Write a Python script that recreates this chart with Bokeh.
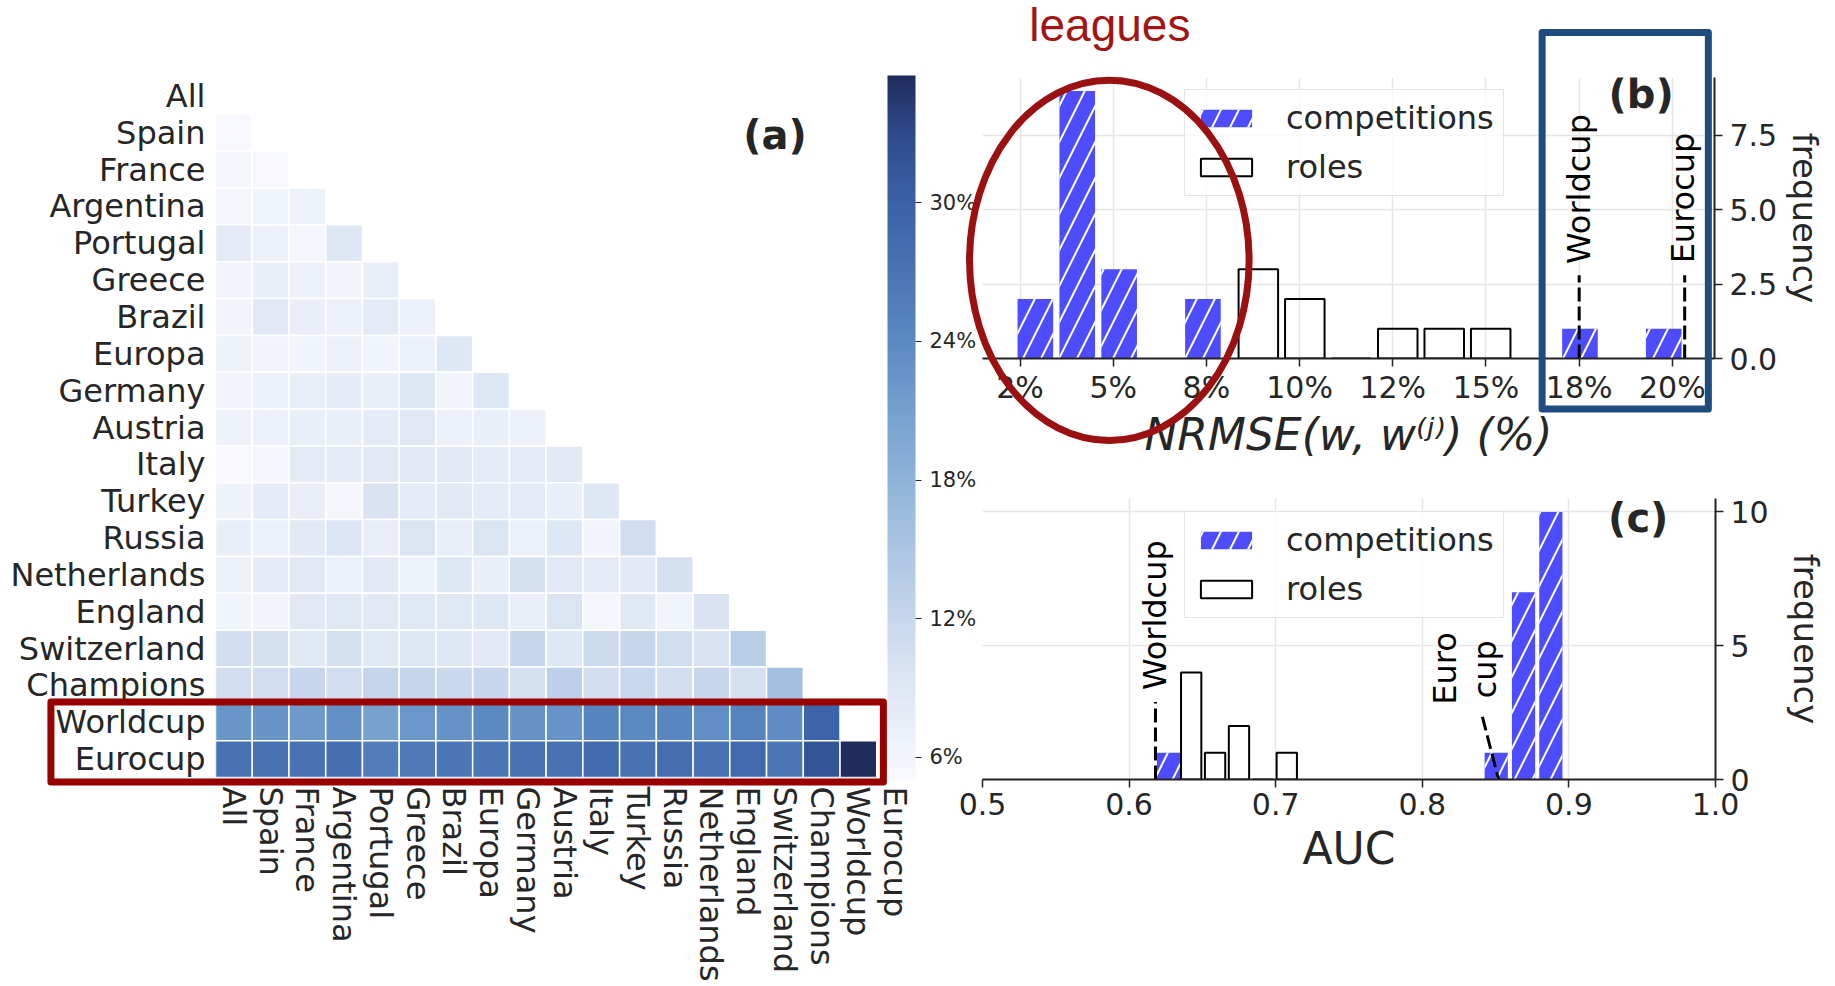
import numpy as np
from bokeh.plotting import figure
from bokeh.models import (Range1d, FixedTicker, CustomJSTickFormatter, LinearColorMapper, ColorBar,
                          Label, Legend, LegendItem, ColumnDataSource, PrintfTickFormatter)
from bokeh.core.properties import value
from bokeh.layouts import row, column
from bokeh.embed import file_html
from bokeh.resources import INLINE

# ---------------- data ----------------
competitions = ["All", "Spain", "France", "Argentina", "Portugal", "Greece", "Brazil", "Europa",
                "Germany", "Austria", "Italy", "Turkey", "Russia", "Netherlands", "England",
                "Switzerland", "Champions", "Worldcup", "Eurocup"]

# lower triangle of pairwise NRMSE (%), row i has values for columns 0..i-1
nrmse_rows = [
    [],
    [5.3],
    [5.5, 5.3],
    [5.7, 6.2, 6.5],
    [8.0, 7.0, 5.8, 9.0],
    [6.0, 7.3, 6.8, 6.0, 7.3],
    [6.0, 8.5, 7.5, 6.8, 8.0, 6.8],
    [6.5, 6.0, 6.2, 7.0, 6.3, 7.0, 9.0],
    [6.0, 6.8, 7.3, 7.8, 7.3, 9.2, 6.0, 9.0],
    [6.5, 6.8, 7.3, 7.3, 7.8, 8.5, 7.0, 7.3, 7.0],
    [5.3, 5.8, 8.0, 8.2, 8.5, 8.5, 8.3, 7.8, 7.8, 8.5],
    [6.5, 7.8, 7.6, 5.7, 9.8, 7.8, 8.3, 7.8, 8.0, 7.3, 9.0],
    [7.3, 6.8, 8.3, 9.3, 7.6, 9.5, 7.5, 9.5, 6.8, 9.0, 6.0, 10.8],
    [6.9, 8.0, 8.5, 6.8, 8.5, 6.5, 9.0, 7.3, 10.3, 8.5, 8.0, 8.3, 10.3],
    [6.2, 6.0, 8.5, 8.7, 8.5, 8.8, 8.8, 9.0, 7.5, 9.5, 5.7, 8.7, 6.4, 9.8],
    [10.5, 10.3, 8.8, 10.3, 8.7, 9.2, 9.0, 8.5, 12.0, 9.0, 11.2, 12.0, 10.8, 9.8, 13.5],
    [10.6, 10.6, 12.0, 10.8, 12.3, 12.3, 11.7, 12.0, 10.3, 13.0, 10.6, 11.8, 10.5, 12.0, 10.3, 16.0],
    [22.3, 22.5, 21.8, 23.0, 20.8, 22.2, 22.8, 24.0, 22.8, 22.6, 24.8, 24.3, 24.5, 23.3, 25.0, 23.4, 29.5],
    [27.5, 27.3, 27.3, 27.8, 25.5, 26.3, 26.6, 26.6, 27.2, 27.5, 28.8, 27.3, 27.9, 27.2, 28.8, 26.6, 31.8, 35.4],
]
colorbar_ticks = [6, 12, 18, 24, 30]
colorbar_low, colorbar_high = 5.0, 35.5

# (b) NRMSE histograms (%)
nrmse_comp_counts = [2, 9, 3, 0, 2, 0, 0, 0, 0, 0, 0, 0, 0, 1, 0, 1]
nrmse_comp_range = (2.35, 20.33)
nrmse_role_counts = [3, 2, 0, 1, 1, 1]
nrmse_role_range = (8.27, 15.75)
nrmse_ticks = [2.5, 5.0, 7.5, 10.0, 12.5, 15.0, 17.5, 20.0]
nrmse_tick_labels = ["2%", "5%", "8%", "10%", "12%", "15%", "18%", "20%"]
freq_b_ticks = [0, 2.5, 5.0, 7.5]
freq_b_labels = ["0.0", "2.5", "5.0", "7.5"]
worldcup_nrmse, eurocup_nrmse = 17.5, 20.33

# (c) AUC histograms
auc_comp_counts = [1, 0, 0, 0, 0, 0, 0, 0, 0, 0, 0, 0, 1, 7, 10]
auc_comp_range = (0.6176, 0.897)
auc_role_counts = [4, 1, 2, 0, 1]
auc_role_range = (0.6342, 0.7157)
auc_ticks = [0.5, 0.6, 0.7, 0.8, 0.9, 1.0]
auc_tick_labels = ["0.5", "0.6", "0.7", "0.8", "0.9", "1.0"]
freq_c_ticks = [0, 5, 10]
freq_c_labels = ["0", "5", "10"]
worldcup_auc, eurocup_auc = 0.618, 0.852

# ---------------- style / geometry ----------------
FONT = "DejaVu Sans"
TXT = "#262626"
AXC = "#222222"
BLUE = "#4d4dff"
GRID = "#e6e6e6"
W, H = 1835, 986
cmap_stops = [5.0, 6.0, 8.0, 10.0, 12.0, 15.0, 18.0, 21.0, 24.0, 27.0, 30.0, 33.0, 35.5]
cmap_colors = ["#f7f9fd", "#f1f5fb", "#e5ebf6", "#d7e2f1", "#c6d6ec", "#abc5e2", "#8fb3d9",
               "#75a0ce", "#5b8ac2", "#4a74b4", "#3b61a9", "#2f4b8c", "#1f2c5c"]

A_LEFT, A_TOP, A_W, A_H, A_RIGHT_BORDER = 215, 77, 698, 700, 67
OVERLAP = 40
B_X0, B_X1, B_Y1 = 1.494, 21.13, 9.45
B_BORDER_LEFT, B_TOP, B_W, B_H = 42, 77, 732, 281
C_TOP_BORDER, C_W, C_H = 30, 733, 281
B_BOTTOM_BORDER = 110


def make_palette(n=256):
    rgb = np.array([[int(c[k:k + 2], 16) for k in (1, 3, 5)] for c in cmap_colors], dtype=float)
    vals = np.linspace(colorbar_low, colorbar_high, n)
    out = []
    for v in vals:
        r, g, b = (np.interp(v, cmap_stops, rgb[:, k]) for k in range(3))
        out.append("#%02x%02x%02x" % (int(round(r)), int(round(g)), int(round(b))))
    return out


def label_formatter(ticks, labels):
    return CustomJSTickFormatter(args=dict(tv=ticks, lv=labels), code="""
        let best = 0;
        for (let k = 0; k < tv.length; k++) {
            if (Math.abs(tv[k] - tick) < Math.abs(tv[best] - tick)) best = k;
        }
        return lv[best];
    """)


def hist_bars(counts, rng, rwidth=0.85):
    edges = np.linspace(rng[0], rng[1], len(counts) + 1)
    centers = (edges[:-1] + edges[1:]) / 2
    return centers, (edges[1] - edges[0]) * rwidth


# ---------------- (a) heatmap ----------------
n = len(competitions)
hx, hy, hv = [], [], []
for i, vals in enumerate(nrmse_rows):
    for j, v in enumerate(vals):
        hx.append(j + 0.5)
        hy.append(i + 0.5)
        hv.append(v)
hsrc = ColumnDataSource(dict(x=hx, y=hy, v=hv))
mapper = LinearColorMapper(palette=make_palette(), low=colorbar_low, high=colorbar_high)

pa = figure(frame_width=A_W, frame_height=A_H, x_range=Range1d(0, n), y_range=Range1d(n, 0),
            min_border_left=A_LEFT, min_border_right=A_RIGHT_BORDER, min_border_top=A_TOP,
            min_border_bottom=H - A_TOP - A_H,
            toolbar_location=None, tools="", output_backend="svg")
pa.rect(x="x", y="y", width=1, height=1, source=hsrc,
        fill_color={"field": "v", "transform": mapper}, line_color="white", line_width=1.5)
pa.grid.visible = False
pa.outline_line_color = None
cat_ticks = [k + 0.5 for k in range(n)]
for ax in (pa.xaxis[0], pa.yaxis[0]):
    ax.ticker = FixedTicker(ticks=cat_ticks)
    ax.formatter = CustomJSTickFormatter(args=dict(names=competitions),
                                         code="return names[Math.floor(tick)] || '';")
    ax.axis_line_color = None
    ax.major_tick_line_color = None
    ax.major_tick_out = 0
    ax.major_tick_in = 0
    ax.minor_tick_line_color = None
    ax.minor_tick_out = 0
    ax.major_label_text_font = FONT
    ax.major_label_text_font_size = "32px"
    ax.major_label_text_color = TXT
pa.yaxis.major_label_standoff = 10
pa.xaxis.major_label_standoff = 9
pa.xaxis.major_label_orientation = "vertical"

cb = ColorBar(color_mapper=mapper, ticker=FixedTicker(ticks=colorbar_ticks),
              formatter=PrintfTickFormatter(format="%d%%"), width=28, height=705,
              location=(672, -3), padding=0, margin=0,
              major_label_text_font=FONT, major_label_text_font_size="21px",
              major_label_text_color=TXT, major_tick_out=6, major_tick_in=0,
              major_tick_line_color=TXT, minor_tick_line_color=None, bar_line_color=None,
              label_standoff=8, background_fill_alpha=0, border_line_color=None)
pa.add_layout(cb)
pa.add_layout(Label(x=15.23, y=1.56, text="(a)", text_font=FONT, text_font_style="bold",
                    text_font_size="40px", text_color=TXT, text_align="center",
                    text_baseline="middle"))


def style_hist(p, xticks, xlabels, yticks, ylabels, xlabel, ylabel_standoff, xlabel_standoff,
               xtick_standoff):
    p.outline_line_color = None
    p.border_fill_alpha = 0
    p.background_fill_color = "white"
    p.grid.grid_line_color = GRID
    p.grid.grid_line_width = 1.5
    p.xaxis.ticker = FixedTicker(ticks=xticks)
    p.xaxis.formatter = label_formatter(xticks, xlabels)
    p.yaxis.ticker = FixedTicker(ticks=yticks)
    p.yaxis.formatter = label_formatter(yticks, ylabels)
    for ax in (p.xaxis[0], p.yaxis[0]):
        ax.axis_line_color = AXC
        ax.axis_line_width = 2
        ax.major_tick_out = 8
        ax.major_tick_in = 0
        ax.major_tick_line_color = AXC
        ax.major_tick_line_width = 1.5
        ax.minor_tick_line_color = None
        ax.major_label_text_font = FONT
        ax.major_label_text_font_size = "30px"
        ax.major_label_text_color = TXT
        ax.axis_label_text_font = FONT
        ax.axis_label_text_color = TXT
        ax.axis_label_text_font_style = "normal"
    p.xaxis.major_label_standoff = xtick_standoff
    p.yaxis.major_label_standoff = 7
    p.xaxis.axis_label = xlabel
    p.xaxis.axis_label_text_font_size = "44px"
    p.xaxis.axis_label_standoff = xlabel_standoff
    p.yaxis.axis_label = "frequency"
    p.yaxis.axis_label_text_font_size = "34px"
    p.yaxis.axis_label_standoff = ylabel_standoff


def add_hists(p, comp_counts, comp_rng, role_counts, role_rng, loc):
    cx, cw = hist_bars(comp_counts, comp_rng)
    rc = p.vbar(x=cx, top=comp_counts, width=cw, bottom=0, fill_color=BLUE, line_color=None,
                hatch_pattern="/", hatch_color="white", hatch_scale=36, hatch_weight=2)
    rx, rw = hist_bars(role_counts, role_rng)
    rr = p.vbar(x=rx, top=role_counts, width=rw, bottom=0, fill_alpha=0, line_color="black",
                line_width=2)
    leg = Legend(items=[LegendItem(label="competitions", renderers=[rc]),
                        LegendItem(label="roles", renderers=[rr])],
                 location=loc, label_text_font=FONT, label_text_font_size="32px",
                 label_text_color=TXT, glyph_width=64, glyph_height=22, label_standoff=28,
                 padding=9, spacing=11, margin=0, border_line_color="#cccccc",
                 border_line_width=1.5, background_fill_alpha=0.8)
    p.add_layout(leg)


def vtext(p, x, y, txt, align="left"):
    p.add_layout(Label(x=x, y=y, text=txt, angle=np.pi / 2, text_font=FONT,
                       text_font_size="32px", text_color="black", text_align=align,
                       text_baseline="middle"))


# ---------------- (b) NRMSE ----------------
pb = figure(frame_width=B_W, frame_height=B_H, x_range=Range1d(B_X0, B_X1), y_range=Range1d(0, B_Y1),
            y_axis_location="right", min_border_left=B_BORDER_LEFT, min_border_top=B_TOP,
            min_border_bottom=B_BOTTOM_BORDER, min_border_right=60,
            toolbar_location=None, tools="", output_backend="svg")
style_hist(pb, nrmse_ticks, nrmse_tick_labels, freq_b_ticks, freq_b_labels,
           "NRMSE(w, w\u207d\u02b2\u207e) (%)", 5, 1, 3)
pb.xaxis.axis_label_text_font_style = "italic"
add_hists(pb, nrmse_comp_counts, nrmse_comp_range, nrmse_role_counts, nrmse_role_range, (202, 162))
pb.segment(x0=[worldcup_nrmse, eurocup_nrmse], y0=[0, 0], x1=[worldcup_nrmse, eurocup_nrmse],
           y1=[2.8, 2.8], line_color="black", line_width=3, line_dash="14 5")
vtext(pb, worldcup_nrmse, 3.18, "Worldcup")
vtext(pb, eurocup_nrmse - 0.04, 3.2, "Eurocup")
pb.add_layout(Label(x=19.16, y=8.88, text="(b)", text_font=FONT, text_font_style="bold",
                    text_font_size="40px", text_color=TXT, text_align="center",
                    text_baseline="middle"))

# ---------------- (c) AUC ----------------
pc = figure(frame_width=C_W, frame_height=C_H, x_range=Range1d(0.5, 1.0), y_range=Range1d(0, 10.5),
            y_axis_location="right", min_border_left=B_BORDER_LEFT, min_border_top=C_TOP_BORDER,
            min_border_bottom=101, min_border_right=60,
            toolbar_location=None, tools="", output_backend="svg")
style_hist(pc, auc_ticks, auc_tick_labels, freq_c_ticks, freq_c_labels, "AUC", 14, 5, 5)
add_hists(pc, auc_comp_counts, auc_comp_range, auc_role_counts, auc_role_range, (202, 161))
pc.segment(x0=[worldcup_auc], y0=[0], x1=[worldcup_auc], y1=[2.9], line_color="black",
           line_width=3, line_dash="14 5")
pc.segment(x0=[eurocup_auc - 0.011], y0=[2.34], x1=[eurocup_auc], y1=[0], line_color="black",
           line_width=3, line_dash="14 5")
vtext(pc, worldcup_auc, 3.34, "Worldcup")
vtext(pc, 0.8156, 4.15, "Euro", align="center")
vtext(pc, 0.8429, 4.12, "cup", align="center")
pc.add_layout(Label(x=0.9473, y=9.78, text="(c)", text_font=FONT, text_font_style="bold",
                    text_font_size="40px", text_color=TXT, text_align="center",
                    text_baseline="middle"))

# ---------------- overlay for highlight marks that cross panel edges ----------------
# page-pixel mappings of the panels' own data coordinates
B_LEFT_PAGE = A_LEFT + A_W + A_RIGHT_BORDER - OVERLAP + B_BORDER_LEFT


def ax_(v):
    return A_LEFT + v * A_W / n


def ay_(v):
    return A_TOP + v * A_H / n


def bx_(v):
    return B_LEFT_PAGE + (v - B_X0) / (B_X1 - B_X0) * B_W


def by_(v):
    return B_TOP + B_H - v / B_Y1 * B_H


ov = figure(width=W, height=H, x_range=Range1d(0, W), y_range=Range1d(H, 0), min_border=0,
            x_axis_location=None, y_axis_location=None, toolbar_location=None, tools="",
            output_backend="svg")
ov.grid.visible = False
ov.outline_line_color = None
ov.background_fill_alpha = 0
ov.border_fill_alpha = 0

# red frame around the Worldcup / Eurocup rows of (a) (heatmap units)
ov.quad(left=[ax_(-4.48)], right=[ax_(18.18)], top=[ay_(16.95)], bottom=[ay_(19.12)],
        fill_alpha=0, line_color="#990000", line_width=7, line_join="round")
# "leagues" ellipse in (b) (panel b units)
ov.ellipse(x=[bx_(4.896)], y=[by_(3.30)], width=[7.5 * B_W / (B_X1 - B_X0)],
           height=[12.12 * B_H / B_Y1], fill_alpha=0, line_color="#9b1010", line_width=7)
# blue frame around the international cups in (b)
ov.quad(left=[bx_(16.506)], right=[bx_(20.965)], top=[by_(10.96)], bottom=[by_(-1.70)],
        fill_alpha=0, line_color="#1f4b7f", line_width=7, line_join="round")
ov.text(x=[bx_(4.91)], y=[by_(11.2)], text=["leagues"], text_font=value("Liberation Sans"),
        text_font_size="46px", text_color="#a31515", text_align="center", text_baseline="middle")

right = column(pb, pc, margin=(0, 0, 0, -OVERLAP))
main = row(pa, right)
ov.margin = (-H, 0, 0, 0)
layout = column(main, ov)
open("out.html", "w").write(file_html(layout, INLINE))
